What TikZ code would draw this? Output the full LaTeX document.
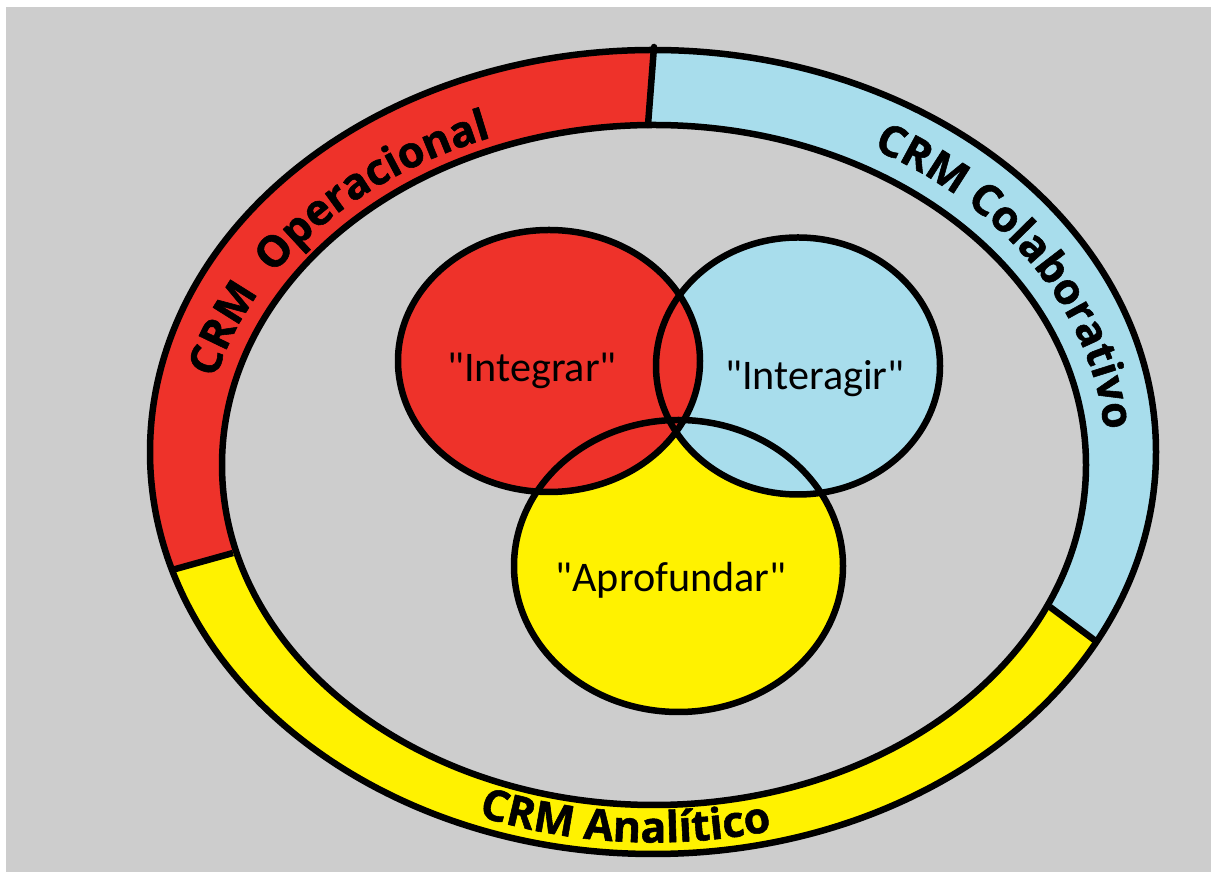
\documentclass[tikz,border=0pt]{standalone}
\usepackage{fontspec}
\newfontfamily\lblfont{Carlito}
\newfontfamily\bandfont{Open Sans}[BoldFeatures={FakeBold=1.3}]
\usetikzlibrary{decorations.text}
\definecolor{bggray}{RGB}{205,205,205}
\definecolor{crmred}{RGB}{238,50,42}
\definecolor{crmblue}{RGB}{168,221,236}
\definecolor{crmyellow}{RGB}{255,242,0}
\newcommand\bandstyle{\bandfont\bfseries\fontsize{24.4}{28}\selectfont}
\begin{document}
\begin{tikzpicture}[x=0.02cm,y=0.02cm,line join=round,
  outl/.style={draw=black,line width=0.13cm},
  lbl/.style={font=\lblfont\fontsize{24}{28}\selectfont,text=black,anchor=base,inner sep=0pt},
  bandtext/.style={decorate,decoration={text along path,text align=center,text={|\bandstyle|#1}}}]
\useasboundingbox (0,0) rectangle (1211,872);
\fill[white] (0,0) rectangle (1211,872);
\fill[bggray] (6,0) rectangle (1211,865);
% divider coordinates
\coordinate (topin) at (648,747);
\coordinate (topout) at (654,825);
\coordinate (leftin) at (233,319);
\coordinate (leftout) at (172,302);
\coordinate (rightin) at (1050,265);
\coordinate (rightout) at (1097,230);
\coordinate (ctr) at (654,407);
% band
\begin{scope}
\clip (653,420) ellipse[x radius=503,y radius=402];
\fill[crmred] (ctr) -- (topin) -- (657,872) -- (0,872) -- (0,254) -- (leftin) -- cycle;
\fill[crmblue] (ctr) -- (topin) -- (657,872) -- (1211,872) -- (1211,145) -- (rightin) -- cycle;
\fill[crmyellow] (ctr) -- (leftin) -- (0,254) -- (0,0) -- (1211,0) -- (1211,145) -- (rightin) -- cycle;
\end{scope}
\fill[bggray] (654,407) ellipse[x radius=432,y radius=340];
\draw[outl] (653,420) ellipse[x radius=503,y radius=402];
\draw[outl] (654,407) ellipse[x radius=432,y radius=340];
\draw[outl,line cap=round] (topin) -- (topout);
\draw[outl] (leftin) -- (leftout);
\draw[outl] (rightin) -- (rightout);
% band texts
\path[bandtext={CRM {\kern0.3em}Operacional}] ([shift={(653.5,413.5)}]186:450 and 344) arc[start angle=186,end angle=96,x radius=450,y radius=344];
\path[bandtext={CRM Colaborativo}] ([shift={(653.5,413.5)}]76:452 and 354) arc[start angle=76,end angle=-14,x radius=452,y radius=354];
\path[bandtext={CRM Analítico}] ([shift={(653.5,413.5)}]-133.8:480 and 384) arc[start angle=-133.8,end angle=-53.8,x radius=480,y radius=384];
% venn
\fill[crmyellow] (678.5,306) ellipse[x radius=164.5,y radius=146];
\fill[crmblue] (798,506) ellipse[x radius=142,y radius=128.5];
\fill[crmred] (549,511) ellipse[x radius=151,y radius=131];
\draw[outl] (678.5,306) ellipse[x radius=164.5,y radius=146];
\draw[outl] (798,506) ellipse[x radius=142,y radius=128.5];
\draw[outl] (549,511) ellipse[x radius=151,y radius=131];
\node[lbl] (integrar) at (532,490) {"Integrar"};
\node[lbl] (interagir) at (815,482) {"Interagir"};
\node[lbl] (aprofundar) at (671,280) {"Aprofundar"};
\end{tikzpicture}
\end{document}
